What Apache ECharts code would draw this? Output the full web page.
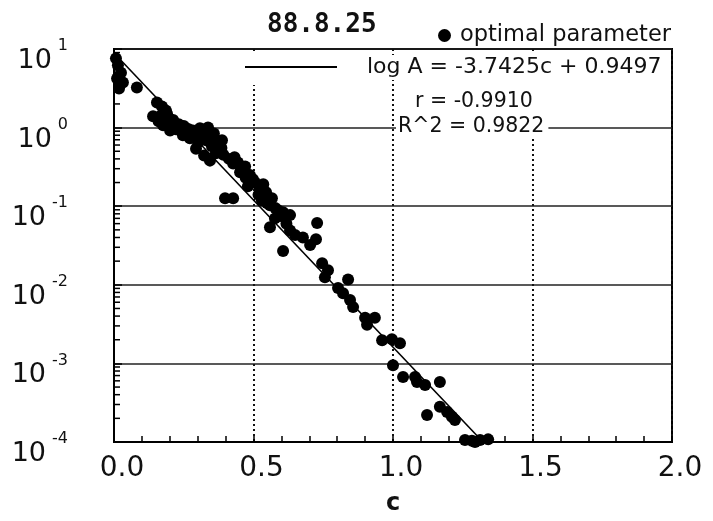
<!DOCTYPE html>
<html>
<head>
<meta charset="utf-8">
<script src="https://cdn.jsdelivr.net/npm/echarts@6/dist/echarts.min.js"></script>
<style>
  html, body { margin: 0; padding: 0; background: #fff; }
  #chart { width: 713px; height: 521px; }
</style>
</head>
<body>
<div id="chart"></div>
<script>
// measured points (c, A)
var pointC = [0.007, 0.014, 0.025, 0.011, 0.032, 0.018, 0.082, 0.154, 0.172, 0.186,
  0.140, 0.165, 0.194, 0.208, 0.176, 0.222, 0.201, 0.254, 0.283, 0.308,
  0.337, 0.358, 0.272, 0.301, 0.330, 0.351, 0.373, 0.294, 0.323, 0.344,
  0.387, 0.247, 0.398, 0.427, 0.444, 0.470, 0.452, 0.487, 0.505, 0.480,
  0.427, 0.523, 0.545, 0.566, 0.530, 0.559, 0.588, 0.606, 0.631, 0.577,
  0.559, 0.649, 0.677, 0.631, 0.728, 0.724, 0.606, 0.703, 0.746, 0.756,
  0.767, 0.839, 0.803, 0.821, 0.846, 0.857, 0.900, 0.907, 0.935, 0.961,
  0.996, 1.025, 1.000, 1.036, 1.079, 1.086, 1.115, 1.168, 1.122, 1.168,
  1.194, 1.211, 1.222, 1.258, 1.283, 1.312, 1.341, 1.294,
  0.190, 0.212, 0.232, 0.262, 0.280, 0.312, 0.320, 0.348, 0.362, 0.392,
  0.412, 0.432, 0.456, 0.472, 0.498, 0.518, 0.548, 0.578, 0.598, 0.618,
  0.535, 0.300, 0.250, 0.268, 0.160, 0.180, 0.365, 0.385];
var pointA = [7.6, 6.2, 5.0, 4.2, 3.75, 3.15, 3.24, 2.09, 1.86, 1.65,
  1.39, 1.39, 1.31, 1.13, 1.07, 0.95, 0.92, 1.0, 0.92, 0.98,
  1.0, 0.84, 0.73, 0.65, 0.69, 0.58, 0.51, 0.54, 0.44, 0.38,
  0.69, 0.80, 0.126, 0.126, 0.36, 0.32, 0.27, 0.25, 0.20, 0.18,
  0.35, 0.169, 0.150, 0.126, 0.119, 0.103, 0.089, 0.084, 0.077, 0.070,
  0.054, 0.043, 0.040, 0.049, 0.061, 0.038, 0.027, 0.032, 0.0188, 0.0125,
  0.0153, 0.0117, 0.0091, 0.0078, 0.0064, 0.0052, 0.0038, 0.0031, 0.0038, 0.00197,
  0.00203, 0.0018, 0.00095, 0.00067, 0.00067, 0.00058, 0.00053, 0.00058, 0.00022, 0.00028,
  0.00024, 0.00021, 0.00019, 0.000106, 0.000104, 0.000106, 0.000108, 0.0001,
  1.50, 1.25, 1.10, 0.90, 0.80, 0.75, 0.86, 0.72, 0.62, 0.45,
  0.40, 0.42, 0.30, 0.23, 0.22, 0.14, 0.11, 0.095, 0.075, 0.060,
  0.19, 0.88, 1.05, 0.95, 1.20, 1.45, 0.47, 0.55];

// regression line log A = -3.7425c + 0.9497, end points
var fitC = [0, 1.3226];
var fitA = [8.91, 0.0001];

var xTicks = ['0.0', '0.5', '1.0', '1.5', '2.0'];
var decades = [-4, -3, -2, -1, 0];
var minorMult = [2, 3, 4, 5, 6, 7, 8, 9];

var title = '88.8.25';
var pointName = 'optimal parameter';
var fitName = 'log A = -3.7425c + 0.9497';
var rText = 'r = -0.9910';
var r2Text = 'R^2 = 0.9822';

var minorTickData = [];
decades.forEach(function (d) {
  minorMult.forEach(function (m) {
    minorTickData.push([0, m * Math.pow(10, d)]);
  });
});

var scatterData = pointC.map(function (c, i) { return [c, pointA[i]]; });
var fitData = fitC.map(function (c, i) { return [c, fitA[i]]; });

var font = 'DejaVu Sans';
var chart = echarts.init(document.getElementById('chart'));

chart.setOption({
  backgroundColor: '#fff',
  animation: false,
  title: {
    text: title,
    left: 262,
    top: 7,
    textStyle: { fontFamily: 'DejaVu Sans Mono', fontWeight: 'bold', fontSize: 26, color: '#111' }
  },
  legend: [{
    data: [{ name: pointName, icon: 'circle' }],
    left: 433,
    top: 19,
    z: 10,
    itemWidth: 13,
    itemHeight: 13,
    textStyle: { fontFamily: font, fontSize: 22.5, color: '#111', padding: [0, 0, 0, 4] }
  }, {
    data: [{ name: fitName, icon: 'rect' }],
    left: 245,
    top: 55,
    z: 10,
    itemWidth: 92,
    itemHeight: 2,
    backgroundColor: '#fff',
    padding: [1, 0, 2, 0],
    textStyle: { fontFamily: font, fontSize: 22, color: '#111', padding: [0, 0, 0, 25] }
  }],
  grid: {
    left: 114, right: 41, top: 49, bottom: 79,
    outerBoundsMode: 'none',
    containLabel: false,
    show: true,
    borderColor: '#000',
    borderWidth: 2
  },
  xAxis: {
    type: 'value',
    min: 0, max: 2, interval: 0.5,
    name: 'c',
    nameLocation: 'middle',
    nameGap: 50,
    nameTextStyle: { fontFamily: font, fontWeight: 'bold', fontSize: 24, color: '#111' },
    axisLine: { lineStyle: { color: '#000', width: 2 } },
    axisTick: { inside: true, length: 6, lineStyle: { color: '#000', width: 1.5 } },
    minorTick: { show: true, splitNumber: 5, length: 6, lineStyle: { color: '#000', width: 1.5 } },
    axisLabel: {
      margin: 13,
      fontFamily: font, fontSize: 28, color: '#111',
      padding: [0, 0, 0, 16],
      formatter: function (v) { return xTicks[Math.round(v / 0.5)]; }
    },
    splitLine: { show: true, lineStyle: { color: '#111', type: [2, 3], width: 2 } }
  },
  yAxis: {
    type: 'log',
    logBase: 10,
    min: 0.0001, max: 10,
    name: 'A',
    nameLocation: 'middle',
    nameGap: 64,
    nameRotate: 90,
    nameTextStyle: { fontFamily: font, fontSize: 26, color: '#111' },
    axisLine: { lineStyle: { color: '#000', width: 2 } },
    axisTick: { inside: true, length: 8, lineStyle: { color: '#000', width: 1.5 } },
    axisLabel: {
      margin: 46,
      color: '#111',
      formatter: function (v) {
        var n = Math.round(Math.log(v) / Math.LN10);
        return '{b|10}{e|' + n + '}';
      },
      rich: {
        b: { fontFamily: font, fontSize: 27, color: '#111', padding: [24, 0, 0, 0] },
        e: { fontFamily: font, fontSize: 16, color: '#111', padding: [0, 0, 6, 6] }
      }
    },
    splitLine: { show: true, lineStyle: { color: '#222', width: 1.5 } }
  },
  graphic: [{
    type: 'rect',
    shape: { x: 400, y: 51, width: 270, height: 72 },
    style: { fill: '#fff' },
    z: 1
  }, {
    type: 'rect',
    shape: { x: 240, y: 51, width: 120, height: 34 },
    style: { fill: '#fff' },
    z: 1
  }, {
    type: 'text',
    x: 415, y: 91,
    style: { text: rText, fontFamily: font, fontSize: 20.5, fill: '#111' },
    z: 6
  }, {
    type: 'text',
    x: 396, y: 116,
    style: { text: r2Text, fontFamily: font, fontSize: 20.5, fill: '#111', backgroundColor: '#fff', padding: [0, 4, 0, 2] },
    z: 6
  }],
  series: [{
    name: pointName,
    type: 'scatter',
    data: scatterData,
    symbol: 'circle',
    symbolSize: 12,
    itemStyle: { color: '#000', opacity: 1 },
    z: 3
  }, {
    name: fitName,
    type: 'line',
    data: fitData,
    symbol: 'none',
    lineStyle: { color: '#000', width: 1.6 },
    itemStyle: { color: '#000' },
    z: 4
  }, {
    type: 'custom',
    data: minorTickData,
    encode: { x: 0, y: 1 },
    silent: true,
    renderItem: function (params, api) {
      var p = api.coord([0, api.value(1)]);
      return {
        type: 'line',
        shape: { x1: p[0], y1: p[1], x2: p[0] + 6, y2: p[1] },
        style: { stroke: '#000', lineWidth: 1.5 }
      };
    },
    z: 4
  }]
});
</script>
</body>
</html>
